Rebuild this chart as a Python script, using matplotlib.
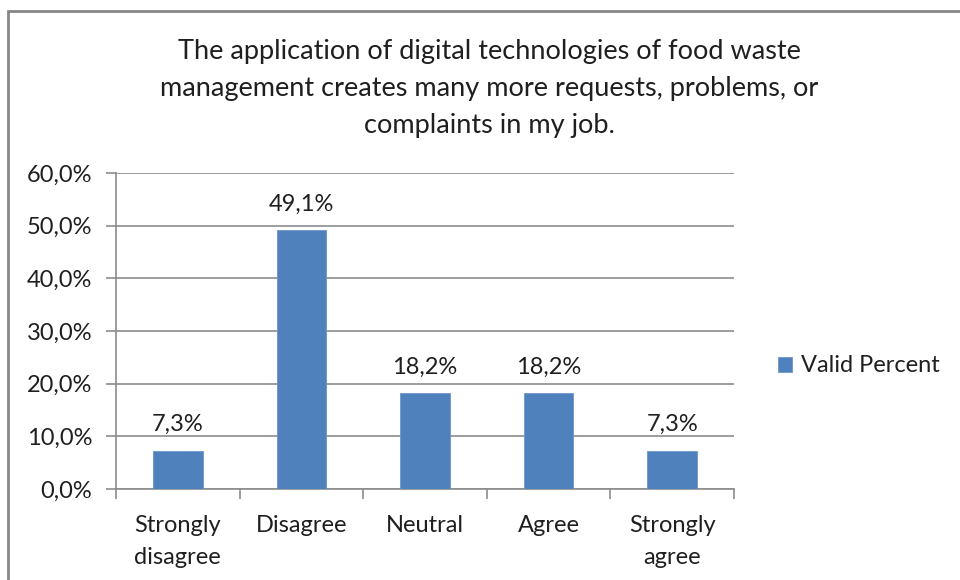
import matplotlib.pyplot as plt
from matplotlib.patches import Rectangle
from matplotlib.ticker import FuncFormatter
import numpy as np

categories = ['Strongly\ndisagree', 'Disagree', 'Neutral', 'Agree', 'Strongly\nagree']
valid_percent = [7.3, 49.1, 18.2, 18.2, 7.3]
yticks = [0, 10, 20, 30, 40, 50, 60]
title = ('The application of digital technologies of food waste\n'
         'management creates many more requests, problems, or\n'
         'complaints in my job.')

plt.rcParams['font.family'] = ['Lato', 'DejaVu Sans']
bar_color = '#4F81BD'
grid_color = '#8C8C8C'
text_color = '#1F1F1F'

fig = plt.figure(figsize=(9.6, 5.8), dpi=100)
ax = fig.add_axes([116/960, 1-489/580, (734-116)/960, (489-173)/580])

# outer chart frame (runs off the right and bottom edges)
fig.patches.append(Rectangle((8/960, -0.1), 1.2, 1 - 11/580 + 0.1,
                             transform=fig.transFigure, fill=False,
                             edgecolor='#878787', linewidth=2))

x = np.arange(len(categories))
bars = ax.bar(x, valid_percent, width=0.4, color=bar_color,
              edgecolor='#6E95C9', linewidth=0.6, zorder=3, label='Valid Percent')

for xi, v in zip(x, valid_percent):
    ax.annotate(f'{v:.1f}%'.replace('.', ','), (xi, v), xytext=(0, 11),
                textcoords='offset points', ha='center', va='bottom',
                fontsize=17, color=text_color)

ax.set_xlim(-0.5, len(categories) - 0.5)
ax.set_ylim(0, 60)
ax.set_yticks(yticks)
ax.yaxis.set_major_formatter(FuncFormatter(lambda v, p: f'{v:.1f}%'.replace('.', ',')))
ax.yaxis.grid(True, color=grid_color, linewidth=1.2, zorder=0)
ax.set_axisbelow(True)

# category labels between boundary ticks
ax.set_xticks(x)
ax.set_xticklabels(categories, fontsize=17, color=text_color, linespacing=1.6)
ax.tick_params(axis='x', length=0, pad=19)
ax.set_xticks(np.arange(len(categories) + 1) - 0.5, minor=True)
ax.tick_params(axis='x', which='minor', length=7, width=1.2, color=grid_color)
ax.tick_params(axis='y', length=7, width=1.2, color=grid_color,
               labelsize=17, labelcolor=text_color, pad=10)

for side in ['top', 'right']:
    ax.spines[side].set_visible(False)
for side in ['left', 'bottom']:
    ax.spines[side].set_color(grid_color)
    ax.spines[side].set_linewidth(1.2)

fig.text(489/960, 1 - 39/580, title, ha='center', va='top', fontsize=19.5,
         color=text_color, linespacing=1.6)

leg = fig.legend(handles=[bars], labels=['Valid Percent'], loc='center left',
                 bbox_to_anchor=(757/960, 1 - 366/580), frameon=False,
                 fontsize=17, handlelength=0.6, handleheight=0.6,
                 handletextpad=0.38, labelcolor=text_color)

fig.savefig('out.png', dpi=100)
